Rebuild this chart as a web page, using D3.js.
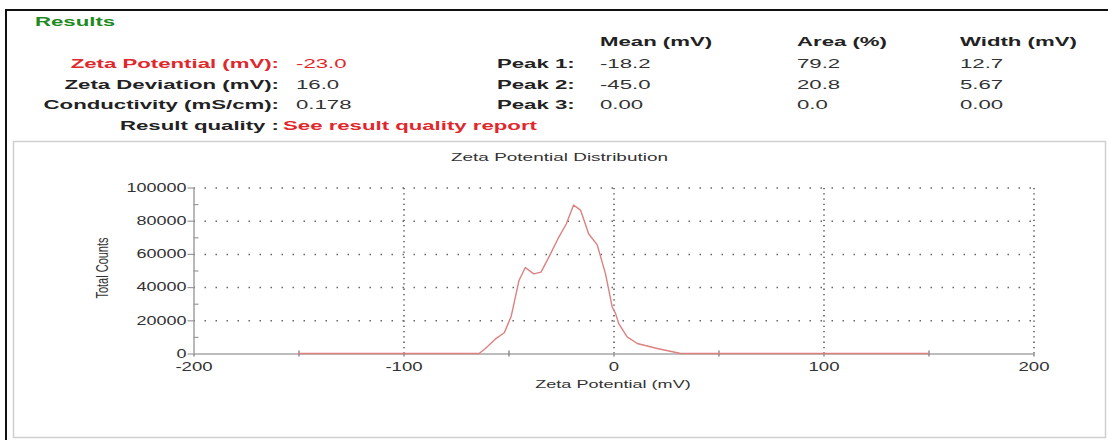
<!DOCTYPE html>
<html>
<head>
<meta charset="utf-8">
<script src="https://cdn.jsdelivr.net/npm/d3@7"></script>
<style>
  html, body { margin: 0; padding: 0; background: #ffffff; }
  svg { display: block; }
</style>
</head>
<body>
<script>
// ---------- data ----------
const summaryLabels = ["Zeta Potential (mV):", "Zeta Deviation (mV):", "Conductivity (mS/cm):"];
const summaryValues = ["-23.0", "16.0", "0.178"];
const peakLabels = ["Peak 1:", "Peak 2:", "Peak 3:"];
const peakColumns = ["Mean (mV)", "Area (%)", "Width (mV)"];
const peakMean = ["-18.2", "-45.0", "0.00"];
const peakArea = ["79.2", "20.8", "0.0"];
const peakWidth = ["12.7", "5.67", "0.00"];
const qualityLabel = "Result quality :";
const qualityValue = "See result quality report";

const chartTitle = "Zeta Potential Distribution";
const xTitle = "Zeta Potential (mV)";
const yTitle = "Total Counts";

const xTicks = [-200, -100, 0, 100, 200];
const xMinor = [-150, -50, 50, 150];
const yTicks = [0, 20000, 40000, 60000, 80000, 100000];
const yMinor = [10000, 30000, 50000, 70000, 90000];

const zetaMv = [-150, -64, -61, -56, -52, -48.7, -45, -42, -38, -34.5, -30, -26.5, -22.5, -19, -15.7, -11.8, -7.8, -3.8, -0.6, 1, 2.5, 6.5, 11.3, 20.8, 32, 150];
const totalCounts = [0, 0, 3000, 9000, 12500, 22500, 44000, 51800, 48000, 49000, 60000, 69000, 78000, 89400, 86400, 72000, 65600, 48000, 28000, 24000, 18000, 10000, 6000, 3000, 0, 0];

// ---------- setup ----------
const W = 1108, H = 440;
const FONT = "'Liberation Sans', Arial, Helvetica, sans-serif";
const svg = d3.select("body").append("svg").attr("width", W).attr("height", H)
  .attr("font-family", FONT);

// horizontally stretch text around its anchor x
function stretch(sel, s) {
  sel.each(function () {
    const t = d3.select(this);
    const x0 = +t.attr("x") || 0;
    t.attr("transform", `matrix(${s},0,0,1,${x0 * (1 - s)},0)`);
  });
}
const plainFmt = d => String(d);

// frame
svg.append("line").attr("x1", 5).attr("x2", W).attr("y1", 10).attr("y2", 10)
  .attr("stroke", "#111").attr("stroke-width", 2);
svg.append("line").attr("x1", 6).attr("x2", 6).attr("y1", 9).attr("y2", H)
  .attr("stroke", "#111").attr("stroke-width", 2);
svg.append("rect").attr("x", 13.5).attr("y", 141.5).attr("width", 1092).attr("height", 296)
  .attr("fill", "none").attr("stroke", "#cfcfcf").attr("stroke-width", 1.5);

// ---------- header ----------
const HS = 1.85;
const hdr = svg.append("g").attr("font-size", 12);
const red = "#e0282c", dark = "#222";

hdr.append("text").attr("x", 35).attr("y", 26).attr("font-weight", "bold")
  .attr("fill", "#1e8a22").text("Results").call(stretch, HS);

const colX = [600, 797, 960];
hdr.selectAll(".colh").data(peakColumns).join("text").attr("class", "colh")
  .attr("x", (d, i) => colX[i]).attr("y", 46).attr("font-weight", "bold")
  .attr("fill", dark).text(d => d).call(stretch, HS);

const rowY = [68.5, 89, 109.5];
hdr.selectAll(".slab").data(summaryLabels).join("text").attr("class", "slab")
  .attr("x", 279).attr("y", (d, i) => rowY[i]).attr("text-anchor", "end")
  .attr("font-weight", "bold").attr("fill", (d, i) => i === 0 ? red : dark)
  .text(d => d).call(stretch, HS);
hdr.selectAll(".sval").data(summaryValues).join("text").attr("class", "sval")
  .attr("x", 296).attr("y", (d, i) => rowY[i])
  .attr("fill", (d, i) => i === 0 ? red : "#333")
  .text(d => d).call(stretch, HS);

hdr.selectAll(".plab").data(peakLabels).join("text").attr("class", "plab")
  .attr("x", 497).attr("y", (d, i) => rowY[i]).attr("font-weight", "bold")
  .attr("fill", dark).text(d => d).call(stretch, HS);

[peakMean, peakArea, peakWidth].forEach((col, c) => {
  hdr.selectAll(".pv" + c).data(col).join("text").attr("class", "pv" + c)
    .attr("x", colX[c]).attr("y", (d, i) => rowY[i]).attr("fill", "#333")
    .text(d => d).call(stretch, HS);
});

hdr.append("text").attr("x", 279).attr("y", 130).attr("text-anchor", "end")
  .attr("font-weight", "bold").attr("fill", dark).text(qualityLabel).call(stretch, HS);
hdr.append("text").attr("x", 283).attr("y", 130)
  .attr("font-weight", "bold").attr("fill", red).text(qualityValue).call(stretch, HS);

// ---------- chart ----------
const x = d3.scaleLinear().domain([-200, 200]).range([193.5, 1033.5]);
const y = d3.scaleLinear().domain([0, 100000]).range([353.5, 187.5]);
const plotW = x(200) - x(-200), plotH = y(0) - y(100000);

svg.append("text").attr("x", 559.5).attr("y", 161).attr("text-anchor", "middle")
  .attr("font-size", 11.5).attr("fill", "#333").text(chartTitle).call(stretch, 1.65);

// gridlines
const gy = svg.append("g").attr("transform", `translate(${x(-200)},0)`)
  .call(d3.axisLeft(y).tickValues(yTicks.filter(v => v > 0)).tickSize(-plotW).tickFormat(""));
gy.select(".domain").remove();
gy.selectAll("line").attr("stroke", "#666").attr("stroke-width", 1.5)
  .attr("stroke-dasharray", "1.5,9.5");

const gx = svg.append("g").attr("transform", `translate(0,${y(0)})`)
  .call(d3.axisBottom(x).tickValues(xTicks.filter(v => v > -200)).tickSize(-plotH).tickFormat(""));
gx.select(".domain").remove();
gx.selectAll("line").attr("stroke", "#666").attr("stroke-width", 1.7)
  .attr("stroke-dasharray", "1.3,4");

// left axis
const axL = svg.append("g").attr("transform", `translate(${x(-200)},0)`)
  .call(d3.axisLeft(y).tickValues(yTicks).tickFormat(plainFmt).tickSize(6).tickSizeOuter(0).tickPadding(1));
axL.select(".domain").attr("stroke", "#9a9a9a").attr("stroke-width", 1.4);
axL.selectAll("line").attr("stroke", "#9a9a9a").attr("stroke-width", 1.2);
axL.selectAll("text").attr("font-size", 12).attr("font-family", FONT).attr("fill", "#333")
  .call(stretch, 1.5);
const axLm = svg.append("g").attr("transform", `translate(${x(-200)},0)`)
  .call(d3.axisLeft(y).tickValues(yMinor).tickSize(-5).tickFormat(""));
axLm.select(".domain").remove();
axLm.selectAll("line").attr("stroke", "#9a9a9a").attr("stroke-width", 1.2);

// bottom axis
const axB = svg.append("g").attr("transform", `translate(0,${y(0)})`)
  .call(d3.axisBottom(x).tickValues(xTicks).tickFormat(plainFmt).tickSize(3).tickSizeOuter(0).tickPadding(6));
axB.select(".domain").attr("stroke", "#bdbdbd").attr("stroke-width", 2);
axB.selectAll("line").attr("stroke", "#888").attr("stroke-width", 1.4);
axB.selectAll("text").attr("font-size", 12).attr("font-family", FONT).attr("fill", "#333")
  .call(stretch, 1.55);
const axBm = svg.append("g").attr("transform", `translate(0,${y(0)})`)
  .call(d3.axisBottom(x).tickValues(xMinor).tickSize(3).tickFormat(""));
axBm.select(".domain").remove();
axBm.selectAll("line").attr("y1", -3).attr("stroke", "#888").attr("stroke-width", 1.4);

// axis titles
svg.append("text").attr("x", 613).attr("y", 388).attr("text-anchor", "middle")
  .attr("font-size", 11.5).attr("fill", "#333").text(xTitle).call(stretch, 1.57);
svg.append("text").attr("text-anchor", "middle").attr("dy", "0.35em")
  .attr("transform", "translate(102,268) scale(1.55,1) rotate(-90)")
  .attr("font-size", 11).attr("fill", "#333").text(yTitle);

// data line
const pts = zetaMv.map((v, i) => [v, totalCounts[i]]);
svg.append("path").datum(pts)
  .attr("fill", "none").attr("stroke", "#dc8080").attr("stroke-width", 1.4)
  .attr("stroke-linejoin", "round")
  .attr("d", d3.line().x(d => x(d[0])).y(d => y(d[1])));
</script>
</body>
</html>
